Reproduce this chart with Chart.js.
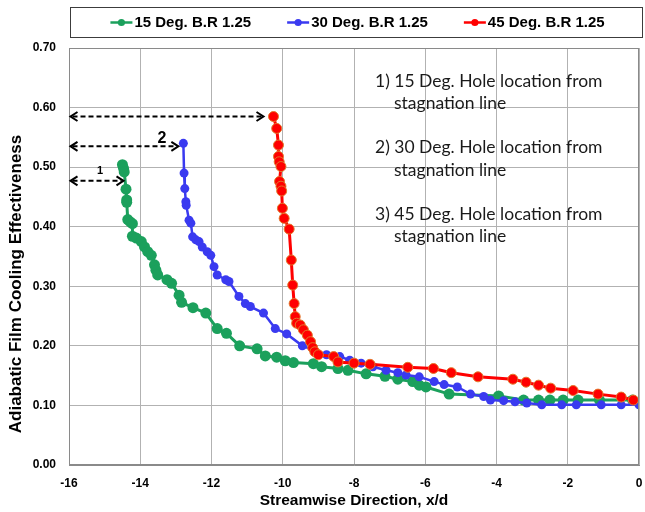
<!DOCTYPE html>
<html>
<head>
<meta charset="utf-8">
<script src="https://cdn.jsdelivr.net/npm/chart.js@4/dist/chart.umd.min.js"></script>
<style>
  html, body { margin: 0; padding: 0; background: #ffffff; }
  #wrap { width: 645px; height: 512px; }
</style>
</head>
<body>
<div id="wrap"><canvas id="c" width="645" height="512"></canvas></div>
<script>
// Series names (legend)
const seriesNames = ['15 Deg. B.R 1.25', '30 Deg. B.R 1.25', '45 Deg. B.R 1.25'];

// Axis ticks
const xTicks = [-16, -14, -12, -10, -8, -6, -4, -2, 0];
const yTicks = [0.0, 0.1, 0.2, 0.3, 0.4, 0.5, 0.6, 0.7];

// 15 deg hole: streamwise position x/d and effectiveness
const x15 = [-14.50, -14.47, -14.45, -14.40, -14.38, -14.38, -14.35, -14.28, -14.22, -14.22,
             -14.11, -13.97, -13.88, -13.79, -13.69, -13.60, -13.56, -13.51, -13.25, -13.12,
             -12.91, -12.84, -12.52, -12.16, -11.84, -11.58, -11.21, -10.72, -10.49, -10.17,
             -9.93, -9.70, -9.14, -8.91, -8.45, -8.17, -7.66, -7.13, -6.77, -6.35,
             -6.17, -5.98, -5.33, -3.94, -3.24, -2.82, -2.50, -2.13, -1.71, -1.11, -0.18];
const eta15 = [0.504, 0.498, 0.492, 0.463, 0.445, 0.441, 0.412, 0.408, 0.405, 0.384,
               0.381, 0.375, 0.366, 0.358, 0.352, 0.336, 0.327, 0.319, 0.311, 0.305,
               0.285, 0.273, 0.264, 0.255, 0.229, 0.221, 0.200, 0.195, 0.183, 0.181,
               0.175, 0.172, 0.170, 0.165, 0.162, 0.159, 0.153, 0.149, 0.144, 0.140,
               0.134, 0.131, 0.119, 0.116, 0.109, 0.109, 0.109, 0.109, 0.109, 0.109, 0.109];

// 30 deg hole
const x30 = [-12.79, -12.77, -12.75, -12.72, -12.71, -12.63, -12.58, -12.53, -12.44, -12.35,
             -12.26, -12.12, -12.02, -11.93, -11.84, -11.60, -11.51, -11.23, -11.05, -10.91,
             -10.54, -10.21, -9.89, -9.45, -8.77, -8.40, -8.12, -7.80, -7.47, -7.10,
             -6.77, -6.54, -6.17, -5.75, -5.47, -5.10, -4.73, -4.36, -4.17, -3.80,
             -3.48, -3.15, -2.73, -2.17, -1.76, -1.06, -0.50, 0.00];
const eta30 = [0.540, 0.490, 0.464, 0.442, 0.436, 0.411, 0.406, 0.383, 0.378, 0.375,
               0.366, 0.358, 0.352, 0.333, 0.319, 0.311, 0.308, 0.283, 0.271, 0.266,
               0.255, 0.229, 0.220, 0.200, 0.185, 0.182, 0.176, 0.171, 0.165, 0.159,
               0.155, 0.151, 0.148, 0.140, 0.135, 0.131, 0.119, 0.115, 0.109, 0.108,
               0.106, 0.104, 0.101, 0.101, 0.101, 0.101, 0.101, 0.101];

// 45 deg hole
const x45 = [-10.26, -10.17, -10.12, -10.12, -10.10, -10.05, -10.09, -10.05, -10.03, -10.01,
             -9.96, -9.82, -9.76, -9.72, -9.68, -9.65, -9.61, -9.51, -9.42, -9.31,
             -9.22, -9.16, -9.10, -9.00, -8.57, -8.45, -8.00, -7.55, -6.49, -5.77,
             -5.27, -4.52, -3.54, -3.17, -2.82, -2.48, -1.85, -1.15, -0.50, -0.16];
const eta45 = [0.585, 0.565, 0.537, 0.518, 0.509, 0.501, 0.476, 0.468, 0.460, 0.431,
               0.414, 0.396, 0.344, 0.302, 0.271, 0.249, 0.238, 0.235, 0.227, 0.218,
               0.207, 0.197, 0.190, 0.185, 0.182, 0.173, 0.171, 0.169, 0.164, 0.162,
               0.155, 0.148, 0.144, 0.139, 0.134, 0.129, 0.125, 0.119, 0.114, 0.109];

// Hole-location arrows: effectiveness level, right tip x/d, label and label anchor
const arrowLevels = [0.477, 0.535, 0.585];
const arrowStartX = -16;
const arrowEndX = [-14.47, -12.93, -10.54];
const arrowTags = ['1', '2', ''];
const arrowTagX = [-15.13, -13.39, 0];
const arrowTagY = [0.494, 0.548, 0];

// Notes block
const noteLines = [
  ['1) 15 Deg. Hole location from', 'stagnation line'],
  ['2) 30 Deg. Hole location from', 'stagnation line'],
  ['3) 45 Deg. Hole location from', 'stagnation line']
];

const colors = ['#1ba05c', '#3a3af0', '#ff0000'];
const AX_FONT = '"Liberation Sans", Arial, sans-serif';

function pts(xs, ys) { return xs.map((x, i) => ({ x: x, y: ys[i] })); }

const decorPlugin = {
  id: 'decor',
  afterDraw(chart) {
    const ctx = chart.ctx;
    const xs = chart.scales.x, ys = chart.scales.y;
    const ca = chart.chartArea;

    // plot frame
    ctx.save();
    ctx.strokeStyle = '#8a8a8a';
    ctx.lineWidth = 1;
    ctx.strokeRect(ca.left + 0.5, ca.top + 0.5, ca.right - ca.left - 1, ca.bottom - ca.top - 1);
    ctx.restore();

    // legend box
    ctx.save();
    const lb = { l: 70, t: 7.5, r: 643, b: 37.5 };
    ctx.strokeStyle = '#3c3c3c';
    ctx.lineWidth = 1;
    ctx.strokeRect(lb.l + 0.5, lb.t, lb.r - lb.l - 1, lb.b - lb.t);
    ctx.font = 'bold 15px ' + AX_FONT;
    ctx.textBaseline = 'middle';
    const mk = 22, gapMk = 2, gapItem = 36;
    const widths = seriesNames.map(n => mk + gapMk + ctx.measureText(n).width);
    const total = widths.reduce((a, b) => a + b, 0) + gapItem * (widths.length - 1);
    let cx = (lb.l + lb.r) / 2 - total / 2 + 1;
    const cy = (lb.t + lb.b) / 2;
    seriesNames.forEach((n, i) => {
      ctx.strokeStyle = colors[i];
      ctx.fillStyle = colors[i];
      ctx.lineWidth = 2.5;
      ctx.beginPath();
      ctx.moveTo(cx, cy);
      ctx.lineTo(cx + mk, cy);
      ctx.stroke();
      ctx.beginPath();
      ctx.arc(cx + mk / 2, cy, 3.6, 0, Math.PI * 2);
      ctx.fill();
      ctx.fillStyle = '#000';
      ctx.textAlign = 'left';
      ctx.fillText(n, cx + mk + gapMk, cy + 0.5);
      cx += widths[i] + gapItem;
    });
    ctx.restore();

    // y axis title
    ctx.save();
    ctx.translate(16.5, 284);
    ctx.rotate(-Math.PI / 2);
    ctx.font = 'bold 17px ' + AX_FONT;
    ctx.fillStyle = '#000';
    ctx.textAlign = 'center';
    ctx.textBaseline = 'middle';
    ctx.fillText('Adiabatic Film Cooling Effectiveness', 0, 0);
    ctx.restore();

    // hole-location arrows
    ctx.save();
    ctx.strokeStyle = '#000';
    ctx.fillStyle = '#000';
    arrowLevels.forEach((lvl, i) => {
      const y = ys.getPixelForValue(lvl);
      const x0 = xs.getPixelForValue(arrowStartX) + 1.5;
      const x1 = xs.getPixelForValue(arrowEndX[i]);
      ctx.lineWidth = 2;
      ctx.setLineDash([5, 3]);
      ctx.beginPath();
      ctx.moveTo(x0 + 2, y);
      ctx.lineTo(x1 - 2, y);
      ctx.stroke();
      ctx.setLineDash([]);
      ctx.beginPath();
      ctx.moveTo(x0 + 7, y - 4.5);
      ctx.lineTo(x0, y);
      ctx.lineTo(x0 + 7, y + 4.5);
      ctx.moveTo(x1 - 7, y - 4.5);
      ctx.lineTo(x1, y);
      ctx.lineTo(x1 - 7, y + 4.5);
      ctx.stroke();
      if (arrowTags[i]) {
        ctx.font = (i === 0 ? 'bold 11px ' : 'bold 16px ') + AX_FONT;
        ctx.textAlign = 'center';
        ctx.textBaseline = 'middle';
        ctx.fillText(arrowTags[i], xs.getPixelForValue(arrowTagX[i]), ys.getPixelForValue(arrowTagY[i]));
      }
    });
    ctx.restore();

    // notes
    ctx.save();
    ctx.font = '17.5px Lato, "Open Sans", sans-serif';
    ctx.fillStyle = '#1a1a1a';
    ctx.textAlign = 'left';
    ctx.textBaseline = 'middle';
    const noteTop = [81, 147.5, 214];
    noteLines.forEach((ln, i) => {
      ctx.fillText(ln[0], 375, noteTop[i]);
      ctx.fillText(ln[1], 394, noteTop[i] + 22.5);
    });
    ctx.restore();
  }
};

const seriesX = [x15, x30, x45];
const seriesY = [eta15, eta30, eta45];
const radii = [5.5, 4.5, 5];
const lineW = [3, 2.5, 3];
const ptBorder = ['#1ba05c', '#3a3af0', '#e2792c'];
const drawOrder = [2, 1, 0];

new Chart(document.getElementById('c'), {
  type: 'scatter',
  data: {
    datasets: seriesNames.map((n, i) => ({
      label: n,
      data: pts(seriesX[i], seriesY[i]),
      showLine: true,
      borderColor: colors[i],
      backgroundColor: colors[i],
      borderWidth: lineW[i],
      pointRadius: radii[i],
      pointBackgroundColor: colors[i],
      pointBorderColor: ptBorder[i],
      pointBorderWidth: i === 2 ? 1 : 0,
      tension: 0,
      order: drawOrder[i]
    }))
  },
  options: {
    responsive: false,
    animation: false,
    devicePixelRatio: 1,
    layout: { padding: { top: 48, right: 2, left: 0, bottom: 0 } },
    plugins: { legend: { display: false }, tooltip: { enabled: false } },
    scales: {
      x: {
        type: 'linear',
        min: -16, max: 0,
        afterBuildTicks: s => { s.ticks = xTicks.map(v => ({ value: v })); },
        afterFit: s => { s.height = 47; s.paddingLeft = 0; s.paddingRight = 0; },
        ticks: {
          autoSkip: false, maxRotation: 0, padding: 11, color: '#000',
          font: { family: AX_FONT, size: 12, weight: 'bold' },
          callback: v => String(v)
        },
        grid: { color: '#b2b2b2', lineWidth: 1, drawTicks: false },
        border: { display: true, color: '#8a8a8a' },
        title: {
          display: true, text: 'Streamwise Direction, x/d', color: '#000',
          font: { family: AX_FONT, size: 15.5, weight: 'bold' },
          padding: { top: 0, bottom: 2 }
        }
      },
      y: {
        min: 0, max: 0.7,
        afterBuildTicks: s => { s.ticks = yTicks.map(v => ({ value: v })); },
        afterFit: s => { s.width = 69; s.paddingTop = 0; s.paddingBottom = 0; },
        ticks: {
          padding: 13, color: '#000',
          font: { family: AX_FONT, size: 12, weight: 'bold' },
          callback: v => Number(v).toFixed(2)
        },
        grid: { color: '#b2b2b2', lineWidth: 1, drawTicks: false },
        border: { display: true, color: '#8a8a8a' }
      }
    }
  },
  plugins: [decorPlugin]
});
</script>
</body>
</html>
